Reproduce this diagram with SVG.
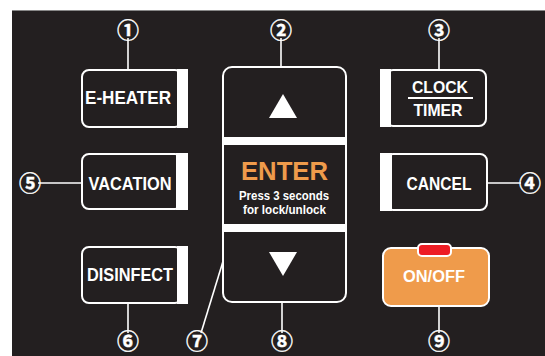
<svg xmlns="http://www.w3.org/2000/svg" width="545" height="356" viewBox="0 0 545 356">
<style>
.btn{fill:#231f20;stroke:#fff;stroke-width:2}
.strip{fill:#fff}
.lbl{font-family:"Liberation Sans",Arial,sans-serif;font-weight:bold;fill:#fff;text-anchor:middle}
.num{font-family:"Noto Sans CJK SC","DejaVu Sans",sans-serif;font-size:22px;fill:#fff;text-anchor:middle;font-weight:bold;stroke:#fff;stroke-width:0.4}
.conn line{stroke:#fff;stroke-width:1.6}
</style>
<rect x="0" y="0" width="545" height="356" fill="#fff"/>
<rect x="12" y="10" width="533" height="346" fill="#231f20"/>
<line x1="12" y1="10.5" x2="545" y2="10.5" stroke="#888" stroke-width="1"/>

<g id="connectors" class="conn">
<line x1="128" y1="38" x2="128" y2="70"/>
<line x1="281" y1="38" x2="281" y2="67"/>
<line x1="439" y1="38" x2="439" y2="70"/>
<line x1="487" y1="183" x2="521" y2="183"/>
<line x1="38" y1="183" x2="82" y2="183"/>
<line x1="128" y1="303" x2="128" y2="333"/>
<line x1="236" y1="219" x2="201" y2="333"/>
<line x1="282" y1="302" x2="282" y2="333"/>
<line x1="439" y1="306" x2="439" y2="333"/>
</g>

<g id="n1"><text class="num" x="128" y="38">①</text></g>
<g id="n2"><text class="num" x="281" y="38">②</text></g>
<g id="n3"><text class="num" x="439" y="38">③</text></g>
<g id="n4"><text class="num" x="530" y="191">④</text></g>
<g id="n5"><text class="num" x="30" y="191">⑤</text></g>
<g id="n6"><text class="num" x="128" y="349">⑥</text></g>
<g id="n7"><text class="num" x="197" y="349">⑦</text></g>
<g id="n8"><text class="num" x="282" y="349">⑧</text></g>
<g id="n9"><text class="num" x="439" y="349">⑨</text></g>

<g id="eheater">
<rect class="btn" x="82" y="70" width="100" height="57" rx="7"/>
<rect class="strip" x="177" y="69" width="11" height="59"/>
<text class="lbl" x="128" y="104" font-size="19" textLength="86" lengthAdjust="spacingAndGlyphs">E-HEATER</text>
</g>

<g id="vacation">
<rect class="btn" x="82" y="154" width="100" height="55" rx="7"/>
<rect class="strip" x="176" y="153" width="12" height="57"/>
<text class="lbl" x="130" y="190" font-size="18" textLength="83" lengthAdjust="spacingAndGlyphs">VACATION</text>
</g>

<g id="disinfect">
<rect class="btn" x="82" y="247" width="100" height="56" rx="7"/>
<rect class="strip" x="177" y="246" width="11" height="58"/>
<text class="lbl" x="130" y="281" font-size="18" textLength="86" lengthAdjust="spacingAndGlyphs">DISINFECT</text>
</g>

<g id="clocktimer">
<rect class="btn" x="386" y="70" width="100" height="56" rx="7"/>
<rect class="strip" x="380" y="69" width="11" height="58"/>
<text class="lbl" x="440" y="93" font-size="17" textLength="56" lengthAdjust="spacingAndGlyphs">CLOCK</text>
<rect class="strip" x="408" y="97" width="65" height="2"/>
<text class="lbl" x="438" y="116" font-size="17" textLength="49" lengthAdjust="spacingAndGlyphs">TIMER</text>
</g>

<g id="cancel">
<rect class="btn" x="386" y="154" width="101" height="56" rx="7"/>
<rect class="strip" x="380" y="153" width="12" height="58"/>
<text class="lbl" x="439" y="190" font-size="18" textLength="65" lengthAdjust="spacingAndGlyphs">CANCEL</text>
</g>

<g id="onoff">
<rect x="383" y="248" width="106" height="58" rx="8" fill="#ef9b4b" stroke="#fff" stroke-width="2"/>
<rect x="418" y="244" width="33" height="12" rx="4" fill="#ed1c24" stroke="#fff" stroke-width="2"/>
<text class="lbl" x="434" y="282" font-size="16" textLength="62" lengthAdjust="spacingAndGlyphs">ON/OFF</text>
</g>

<g id="navpad">
<rect class="btn" x="223" y="67" width="123" height="235" rx="9"/>
<rect class="strip" x="223" y="137" width="123" height="8"/>
<rect class="strip" x="223" y="224" width="123" height="8"/>
<polygon points="283,94 269,118 297,118" fill="#fff"/>
<polygon points="269,252 297,252 283,276" fill="#fff"/>
<text x="284.5" y="180" font-family="Liberation Sans,Arial,sans-serif" font-weight="bold" font-size="26" fill="#ef9b4b" text-anchor="middle" textLength="87" lengthAdjust="spacingAndGlyphs">ENTER</text>
<text class="lbl" x="284" y="200" font-size="13.5" textLength="90" lengthAdjust="spacingAndGlyphs">Press 3 seconds</text>
<text class="lbl" x="284.5" y="214" font-size="13.5" textLength="83" lengthAdjust="spacingAndGlyphs">for lock/unlock</text>
</g>
</svg>
